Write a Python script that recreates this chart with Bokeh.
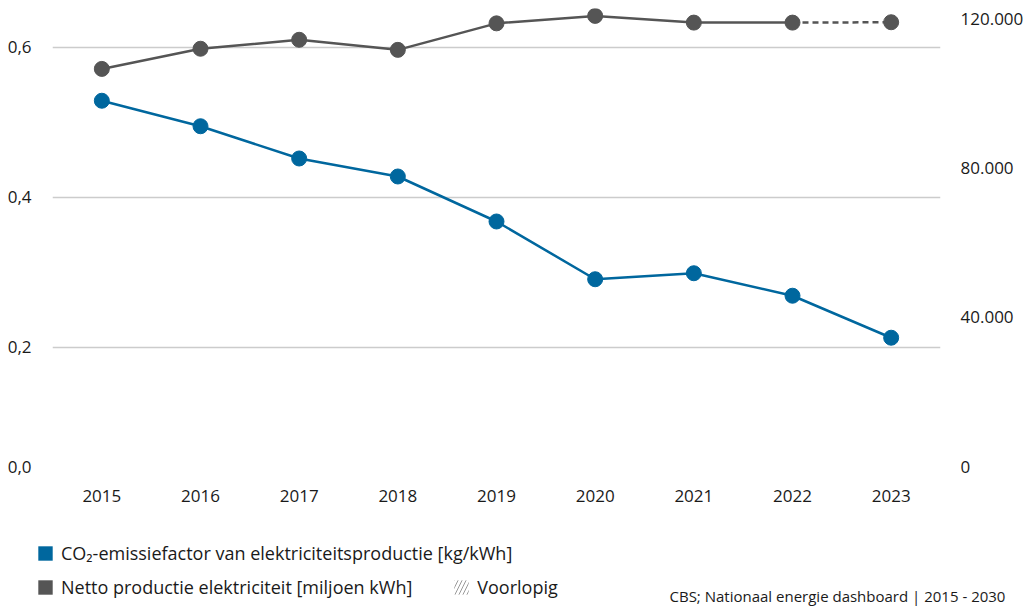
from bokeh.plotting import figure
from bokeh.layouts import column
from bokeh.models import (Range1d, LinearAxis, FixedTicker, Legend, LegendItem, Label)
from bokeh.embed import file_html
from bokeh.resources import INLINE

# ---- data ----
years = [2015, 2016, 2017, 2018, 2019, 2020, 2021, 2022, 2023]
co2_factor = [0.529, 0.495, 0.452, 0.428, 0.368, 0.291, 0.299, 0.269, 0.213]
netto_productie = [106500, 111900, 114300, 111600, 118700, 120700, 118900, 118900, 119000]
final_years = years[:-1]
final_netto = netto_productie[:-1]
prov_years = years[-2:]
prov_netto = netto_productie[-2:]

left_ticks = [0.0413, 0.2, 0.4, 0.6]
left_labels = ["0,0", "0,2", "0,4", "0,6"]
right_ticks = [0, 40000, 80000, 120000]
right_labels = ["0", "40.000", "80.000", "120.000"]

legend_co2 = "CO\u2082-emissiefactor van elektriciteitsproductie [kg/kWh]"
legend_netto = "Netto productie elektriciteit [miljoen kWh]"
legend_prov = "Voorlopig"
source_text = "CBS; Nationaal energie dashboard | 2015 - 2030"

BLUE = "#00679e"
GRAY = "#555555"
TEXT = "#1a1a1a"
FONT = "Open Sans"
NAN = float("nan")

p = figure(width=1029, height=530, output_backend="svg", toolbar_location=None,
           x_range=Range1d(2014.5, 2023.5), y_range=Range1d(0.0413, 0.652),
           min_border_left=52, min_border_right=89, min_border_top=8, min_border_bottom=64)
p.outline_line_color = None
p.frame_align = False
p.extra_y_ranges = {"right": Range1d(0, 122680)}

# axes styling
p.xaxis.ticker = FixedTicker(ticks=years)
p.yaxis.ticker = FixedTicker(ticks=left_ticks)
p.yaxis.major_label_overrides = {t: l for t, l in zip(left_ticks, left_labels)}
for ax in [p.xaxis[0], p.yaxis[0]]:
    ax.axis_line_color = None
    ax.major_tick_line_color = None
    ax.minor_tick_line_color = None
    ax.major_label_text_font = FONT
    ax.major_label_text_font_size = "17px"
    ax.major_label_text_color = TEXT
p.xaxis.major_label_standoff = 17
p.yaxis.major_label_standoff = 15

raxis = LinearAxis(y_range_name="right", ticker=FixedTicker(ticks=right_ticks))
raxis.major_label_overrides = {t: l for t, l in zip(right_ticks, right_labels)}
raxis.axis_line_color = None
raxis.major_tick_line_color = None
raxis.minor_tick_line_color = None
raxis.major_label_text_font = FONT
raxis.major_label_text_font_size = "17px"
raxis.major_label_text_color = TEXT
raxis.major_label_standoff = 14
p.add_layout(raxis, "right")

p.xgrid.grid_line_color = None
p.ygrid.grid_line_color = "#cccccc"
p.ygrid.grid_line_width = 1.5

# series
p.line(years, co2_factor, color=BLUE, line_width=2.5)
p.scatter(years, co2_factor, size=15, color=BLUE)

p.line(final_years, final_netto, color=GRAY, line_width=2.5, y_range_name="right")
p.line(prov_years, prov_netto, color=GRAY, line_width=2.5, line_dash="6 4", y_range_name="right")
p.scatter(years, netto_productie, size=15, color=GRAY, y_range_name="right")

# ---- legend / source strip ----
q = figure(width=1029, height=76, output_backend="svg", toolbar_location=None,
           x_range=Range1d(0, 1029), y_range=Range1d(0, 76),
           x_axis_type=None, y_axis_type=None,
           min_border_left=0, min_border_right=0, min_border_top=0, min_border_bottom=0)
q.outline_line_color = None
q.frame_align = False
q.xgrid.visible = False
q.ygrid.visible = False

# legend proxies (not drawn: NaN coordinates)
r_blue = q.quad(left=[NAN], right=[NAN], top=[NAN], bottom=[NAN], fill_color=BLUE, line_color=None)
r_gray = q.quad(left=[NAN], right=[NAN], top=[NAN], bottom=[NAN], fill_color=GRAY, line_color=None)
r_prov = q.quad(left=[NAN], right=[NAN], top=[NAN], bottom=[NAN], fill_alpha=0, line_color=None,
                hatch_pattern="/", hatch_color="#999999", hatch_scale=8, hatch_weight=1)

common = dict(orientation="horizontal", padding=0, margin=0, spacing=40,
              glyph_width=18, glyph_height=18, label_standoff=7,
              label_text_font=FONT, label_text_font_size="18px", label_text_color=TEXT,
              border_line_color=None, background_fill_alpha=0)
leg1 = Legend(items=[LegendItem(label=legend_co2, renderers=[r_blue])],
              location=(36, 41), **common)
leg2 = Legend(items=[LegendItem(label=legend_netto, renderers=[r_gray]),
                     LegendItem(label=legend_prov, renderers=[r_prov])],
              location=(36, 7), **common)
q.add_layout(leg1, "center")
q.add_layout(leg2, "center")

src = Label(x=669, y=11, text=source_text, text_font=FONT, text_font_size="15px",
            text_color=TEXT, text_baseline="alphabetic")
q.add_layout(src)

layout = column(p, q, spacing=0)
open("out.html", "w").write(file_html(layout, INLINE))
